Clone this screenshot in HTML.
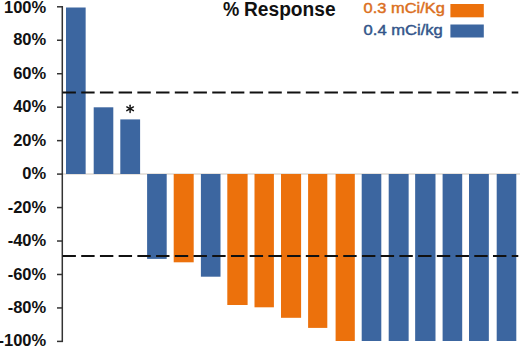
<!DOCTYPE html>
<html><head><meta charset="utf-8"><style>
html,body{margin:0;padding:0;background:#fff;}
svg{display:block;}
</style></head><body>
<svg width="520" height="347" viewBox="0 0 520 347">
<rect width="520" height="347" fill="#fff"/>
<line x1="62" y1="174.0" x2="520" y2="174.0" stroke="#CFC6BC" stroke-width="1"/>
<rect x="66.00" y="7.50" width="19.65" height="166.50" fill="#3C66A0"/>
<rect x="93.70" y="107.30" width="19.60" height="66.70" fill="#3C66A0"/>
<rect x="120.30" y="119.40" width="19.80" height="54.60" fill="#3C66A0"/>
<rect x="147.10" y="174.00" width="19.60" height="84.90" fill="#3C66A0"/>
<rect x="173.70" y="174.00" width="20.00" height="88.30" fill="#EC710C"/>
<rect x="200.90" y="174.00" width="19.60" height="102.70" fill="#3C66A0"/>
<rect x="227.30" y="174.00" width="20.30" height="131.00" fill="#EC710C"/>
<rect x="254.50" y="174.00" width="19.40" height="133.30" fill="#EC710C"/>
<rect x="281.00" y="174.00" width="20.10" height="143.80" fill="#EC710C"/>
<rect x="308.10" y="174.00" width="19.20" height="153.90" fill="#EC710C"/>
<rect x="335.60" y="174.00" width="19.20" height="167.00" fill="#EC710C"/>
<rect x="361.70" y="174.00" width="19.60" height="167.00" fill="#3C66A0"/>
<rect x="388.70" y="174.00" width="19.95" height="167.00" fill="#3C66A0"/>
<rect x="415.15" y="174.00" width="20.35" height="167.00" fill="#3C66A0"/>
<rect x="442.60" y="174.00" width="19.60" height="167.00" fill="#3C66A0"/>
<rect x="469.00" y="174.00" width="19.85" height="167.00" fill="#3C66A0"/>
<rect x="496.70" y="174.00" width="19.60" height="167.00" fill="#3C66A0"/>

<g stroke="#333" stroke-width="1.5" fill="none">
<line x1="62.3" y1="6.2" x2="62.3" y2="342"/>
<line x1="57" y1="6.80" x2="63" y2="6.80"/>
<line x1="57" y1="40.26" x2="63" y2="40.26"/>
<line x1="57" y1="73.72" x2="63" y2="73.72"/>
<line x1="57" y1="107.18" x2="63" y2="107.18"/>
<line x1="57" y1="140.64" x2="63" y2="140.64"/>
<line x1="57" y1="174.10" x2="63" y2="174.10"/>
<line x1="57" y1="207.56" x2="63" y2="207.56"/>
<line x1="57" y1="241.02" x2="63" y2="241.02"/>
<line x1="57" y1="274.48" x2="63" y2="274.48"/>
<line x1="57" y1="307.94" x2="63" y2="307.94"/>
<line x1="57" y1="341.40" x2="63" y2="341.40"/>

</g>
<g stroke="#111" stroke-width="2" stroke-dasharray="13.4 5.317" fill="none">
<line x1="62.5" y1="92.6" x2="518.3" y2="92.6"/>
<line x1="62.5" y1="256" x2="518.3" y2="256"/>
</g>
<g font-family="'Liberation Sans', sans-serif" font-weight="bold" font-size="16.5" fill="#111" text-anchor="end">
<text x="46.2" y="12.70">100%</text>
<text x="46.2" y="45.46">80%</text>
<text x="46.2" y="78.92">60%</text>
<text x="46.2" y="112.38">40%</text>
<text x="46.2" y="145.84">20%</text>
<text x="46.2" y="179.30">0%</text>
<text x="46.2" y="212.76">-20%</text>
<text x="46.2" y="246.22">-40%</text>
<text x="46.2" y="279.68">-60%</text>
<text x="46.2" y="313.14">-80%</text>
<text x="46.2" y="345.70">-100%</text>

</g>
<g stroke="#111" stroke-width="1.45" stroke-linecap="round" transform="translate(130.1 108.8)">
<line x1="0" y1="-3.6" x2="0" y2="3.6"/>
<line x1="-3.3" y1="-1.9" x2="3.3" y2="1.9"/>
<line x1="-3.3" y1="1.9" x2="3.3" y2="-1.9"/>
</g>
<g font-family="'Liberation Sans', sans-serif" font-weight="bold" font-size="19.5" fill="#111">
<text x="222.9" y="16.0" textLength="16.3" lengthAdjust="spacingAndGlyphs">%</text>
<text x="244" y="16.0" textLength="91.6" lengthAdjust="spacingAndGlyphs">Response</text>
</g>
<text x="363.6" y="13.2" font-family="'Liberation Sans', sans-serif" font-size="15" textLength="81.3" lengthAdjust="spacingAndGlyphs" fill="#DB6F1E" stroke="#DB6F1E" stroke-width="0.45">0.3 mCi/Kg</text>
<text x="363.6" y="34.9" font-family="'Liberation Sans', sans-serif" font-size="15" textLength="79.2" lengthAdjust="spacingAndGlyphs" fill="#33558A" stroke="#33558A" stroke-width="0.45">0.4 mCi/kg</text>
<rect x="450.4" y="4.0" width="33.4" height="13.3" fill="#EC710C"/>
<rect x="450.4" y="24.5" width="33.4" height="13.0" fill="#3C66A0"/>
</svg>
</body></html>
